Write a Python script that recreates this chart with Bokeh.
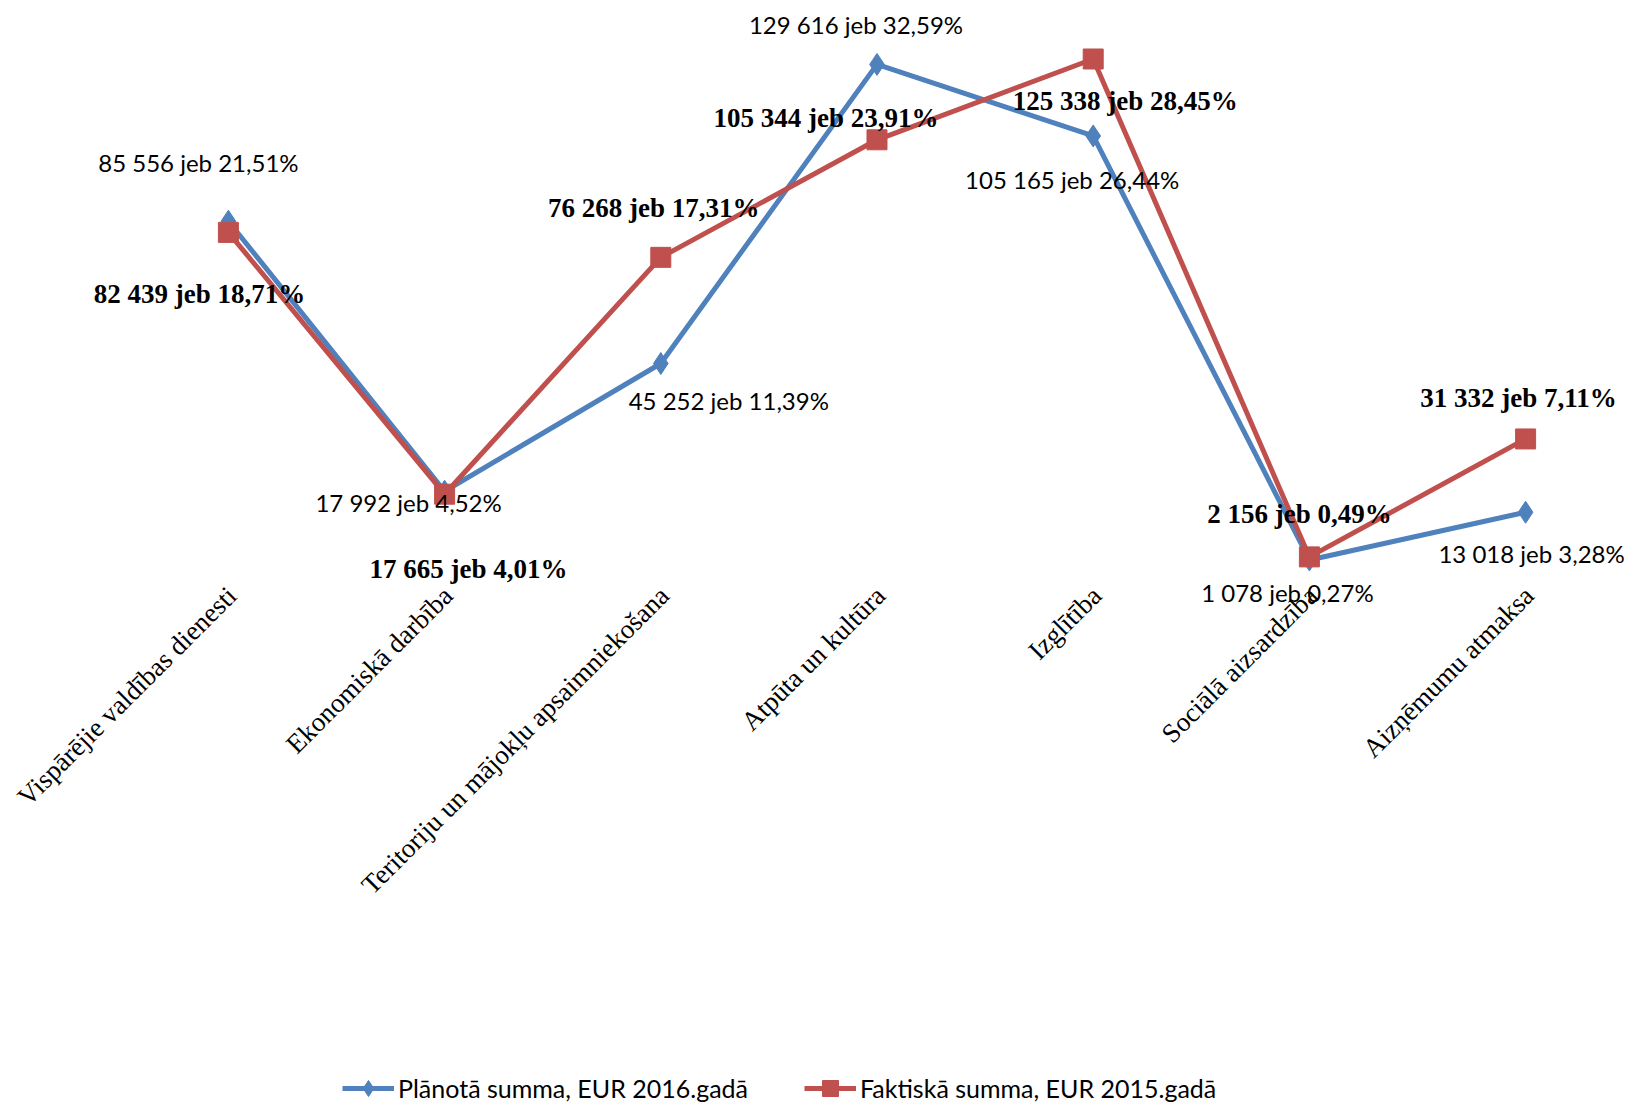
import math
from bokeh.plotting import figure
from bokeh.models import Range1d, ColumnDataSource, Legend, LegendItem
from bokeh.core.properties import value
from bokeh.embed import file_html
from bokeh.resources import INLINE

# ---- data -------------------------------------------------------------
categories = [
    "Vispārējie valdības dienesti",
    "Ekonomiskā darbība",
    "Teritoriju un mājokļu apsaimniekošana",
    "Atpūta un kultūra",
    "Izglītība",
    "Sociālā aizsardzība",
    "Aizņēmumu atmaksa",
]
# plotted values
planned_2016 = [85200, 18400, 50000, 124000, 106300, 1400, 13200]
planned_labels = [
    "85 556 jeb 21,51%",
    "17 992 jeb 4,52%",
    "45 252 jeb 11,39%",
    "129 616 jeb 32,59%",
    "105 165 jeb 26,44%",
    "1 078 jeb 0,27%",
    "13 018 jeb 3,28%",
]
actual_2015 = [82439, 17665, 76268, 105344, 125338, 2156, 31332]
actual_labels = [
    "82 439 jeb 18,71%",
    "17 665 jeb 4,01%",
    "76 268 jeb 17,31%",
    "105 344 jeb 23,91%",
    "125 338 jeb 28,45%",
    "2 156 jeb 0,49%",
    "31 332 jeb 7,11%",
]
series_names = ["Plānotā summa, EUR 2016.gadā", "Faktiskā summa, EUR 2015.gadā"]

# ---- label placement (screen px) -------------------------------------
planned_dx = [-30, -36, 68, -21, -21, -22, 6]
planned_dy = [-59, 11, 37, -40, 44, 33, 41]
actual_dx = [-29, 24, -7, -51, 32, -10, -7]
actual_dy = [62, 75, -49, -22, 42, -43, -41]

BLUE = "#4F81BD"
RED = "#C0504D"

idx = list(range(len(categories)))

p = figure(
    width=1630, height=1104,
    output_backend="svg", toolbar_location=None,
    x_range=Range1d(-1.0541, 6.4852),
    y_range=Range1d(-133322, 139808),
    x_axis_location=None, y_axis_location=None,
    title=None, min_border=0,
)
p.grid.visible = False
p.outline_line_color = None
p.background_fill_color = "white"
p.border_fill_color = "white"

src_b = ColumnDataSource(dict(x=idx, y=planned_2016, t=planned_labels, dx=planned_dx, dy=planned_dy))
src_r = ColumnDataSource(dict(x=idx, y=actual_2015, t=actual_labels, dx=actual_dx, dy=actual_dy))

bl = p.line("x", "y", source=src_b, line_color=BLUE, line_width=5)
bs = p.scatter("x", "y", source=src_b, marker="diamond", size=22, fill_color=BLUE, line_color=BLUE)
rl = p.line("x", "y", source=src_r, line_color=RED, line_width=5)
rs = p.scatter("x", "y", source=src_r, marker="square", size=20, fill_color=RED, line_color=RED)

p.text("x", "y", text="t", source=src_b, x_offset="dx", y_offset="dy",
       text_font=value("Lato"), text_font_size="24px", text_color="black",
       text_align="center", text_baseline="middle")
p.text("x", "y", text="t", source=src_r, x_offset="dx", y_offset="dy",
       text_font=value("Liberation Serif"), text_font_style="bold", text_font_size="27px",
       text_color="black", text_align="center", text_baseline="middle")

# category labels, rotated 45 degrees
src_c = ColumnDataSource(dict(x=idx, y=[0] * len(categories), t=categories))
p.text("x", "y", text="t", source=src_c, angle=math.pi / 4, x_offset=-7, y_offset=15,
       text_font=value("Liberation Serif"), text_font_size="27px", text_color="black",
       text_align="right", text_baseline="top")

legend = Legend(
    items=[LegendItem(label=series_names[0], renderers=[bl, bs]),
           LegendItem(label=series_names[1], renderers=[rl, rs])],
    orientation="horizontal", location=(342, -4),
    label_text_font="Lato", label_text_font_size="25px", label_text_color="black",
    glyph_width=52, glyph_height=40, label_standoff=4, spacing=56,
    padding=0, margin=0, border_line_color=None, background_fill_alpha=0,
)
p.add_layout(legend)

open("out.html", "w").write(file_html(p, INLINE))
